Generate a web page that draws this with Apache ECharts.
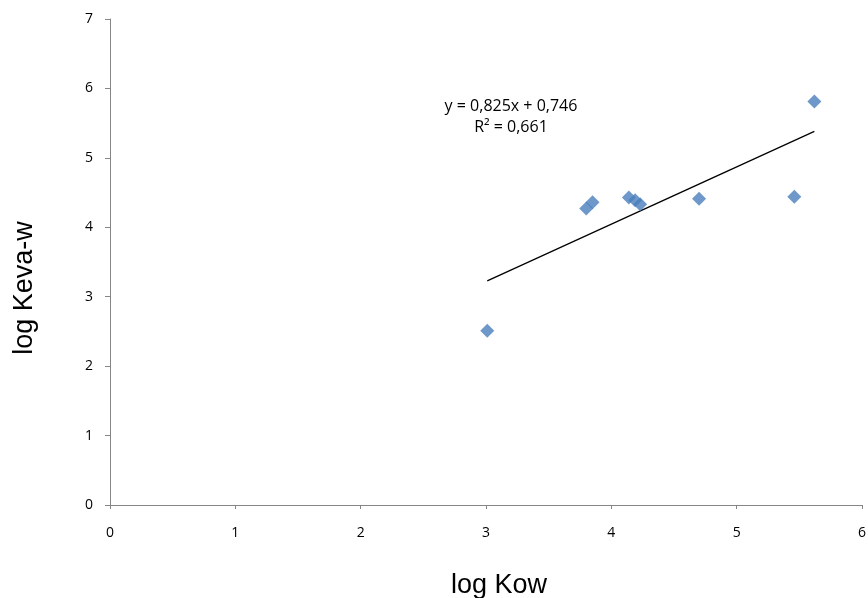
<!DOCTYPE html>
<html>
<head>
<meta charset="utf-8">
<script src="https://cdn.jsdelivr.net/npm/echarts@6/dist/echarts.min.js"></script>
<style>
  html, body { margin: 0; padding: 0; background: #ffffff; }
  #chart { width: 868px; height: 598px; }
</style>
</head>
<body>
<div id="chart"></div>
<script>
// Measured compounds: log Kow vs log Keva-w
const logKow  = [3.01, 3.80, 3.85, 4.14, 4.19, 4.23, 4.70, 5.46, 5.62];
const logKeva = [2.51, 4.27, 4.36, 4.43, 4.39, 4.33, 4.41, 4.44, 5.81];

// Linear fit reported on the chart
const slope = 0.825;
const intercept = 0.746;
const rSquared = 0.661;

const xTicks = [0, 1, 2, 3, 4, 5, 6];
const yTicks = [0, 1, 2, 3, 4, 5, 6, 7];

const xTitle = 'log Kow';
const yTitle = 'log Keva-w';

const points = logKow.map((x, i) => [x, logKeva[i]]);
const xMin = Math.min(...logKow);
const xMax = Math.max(...logKow);
const trend = [[xMin, slope * xMin + intercept], [xMax, slope * xMax + intercept]];

const fmt = v => v.toFixed(3).replace('.', ',');
const labelFont = '"Open Sans", "Liberation Sans", sans-serif';
const titleFont = '"Liberation Sans", Arial, sans-serif';

const chart = echarts.init(document.getElementById('chart'));
chart.setOption({
  animation: false,
  backgroundColor: '#ffffff',
  grid: { left: 110, right: 6, top: 19, bottom: 93, outerBoundsMode: 'none', containLabel: false },
  xAxis: {
    type: 'value',
    min: xTicks[0],
    max: xTicks[xTicks.length - 1],
    interval: 1,
    axisLine: { lineStyle: { color: '#868686', width: 1 } },
    axisTick: { length: 4, lineStyle: { color: '#868686' } },
    axisLabel: { margin: 21, fontFamily: labelFont, fontSize: 14, color: '#000' },
    splitLine: { show: false }
  },
  yAxis: {
    type: 'value',
    min: yTicks[0],
    max: yTicks[yTicks.length - 1],
    interval: 1,
    axisLine: { show: true, lineStyle: { color: '#868686', width: 1 } },
    axisTick: { show: true, length: 5, lineStyle: { color: '#868686' } },
    axisLabel: { margin: 17, fontFamily: labelFont, fontSize: 14, color: '#000' },
    splitLine: { show: false }
  },
  series: [
    {
      type: 'line',
      data: trend,
      showSymbol: false,
      symbol: 'none',
      lineStyle: { color: '#000000', width: 1.3 },
      z: 1
    },
    {
      type: 'scatter',
      data: points,
      symbol: 'diamond',
      symbolSize: [14, 14],
      itemStyle: { color: '#4a7ebb' },
      z: 2
    }
  ],
  graphic: [
    {
      type: 'text',
      x: 511, y: 106,
      style: {
        text: 'y = ' + fmt(slope) + 'x + ' + fmt(intercept),
        fontFamily: labelFont, fontSize: 16, fill: '#000',
        align: 'center', verticalAlign: 'middle'
      }
    },
    {
      type: 'text',
      x: 511, y: 127,
      style: {
        text: 'R² = ' + fmt(rSquared),
        fontFamily: labelFont, fontSize: 16, fill: '#000',
        align: 'center', verticalAlign: 'middle'
      }
    },
    {
      type: 'text',
      x: 499, y: 586,
      style: {
        text: xTitle,
        fontFamily: titleFont, fontSize: 27, fill: '#000',
        align: 'center', verticalAlign: 'middle'
      }
    },
    {
      type: 'text',
      x: 25, y: 288,
      rotation: Math.PI / 2,
      style: {
        text: yTitle,
        fontFamily: titleFont, fontSize: 27, fill: '#000',
        align: 'center', verticalAlign: 'middle'
      }
    }
  ]
});
</script>
</body>
</html>
